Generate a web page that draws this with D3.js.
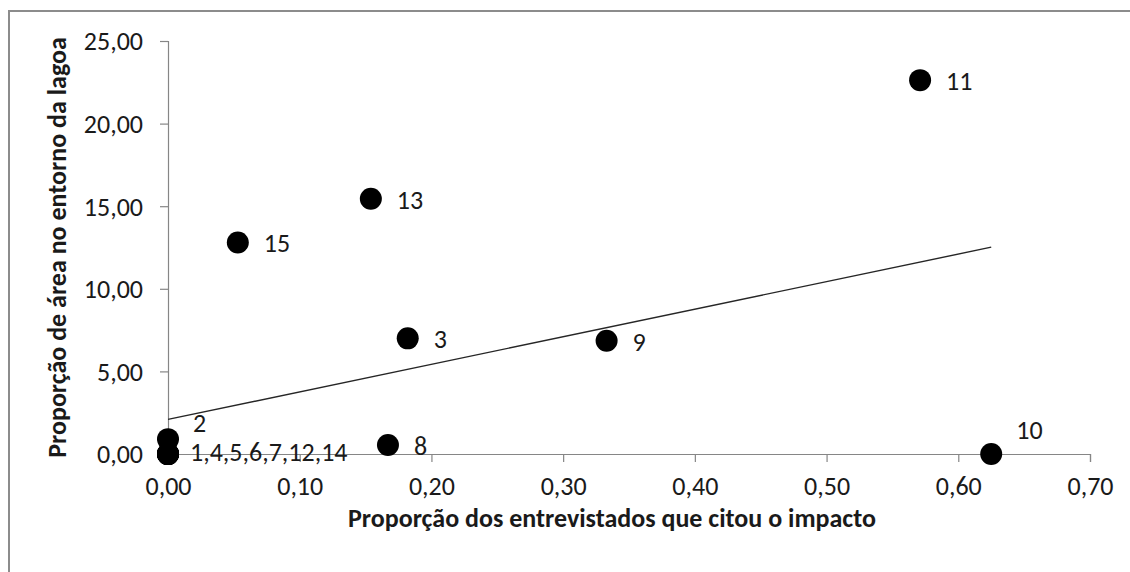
<!DOCTYPE html>
<html>
<head>
<meta charset="utf-8">
<script src="https://cdn.jsdelivr.net/npm/d3@7/dist/d3.min.js"></script>
<style>
  html, body { margin: 0; padding: 0; background: #fff; }
  svg { display: block; }
  text { font-family: Calibri, "Noto Sans", sans-serif; fill: #1a1a1a; }
</style>
</head>
<body>
<svg id="chart" width="1130" height="572"></svg>
<script>
// Sites around the lagoon
const sites = ["1", "2", "3", "4", "5", "6", "7", "8", "9", "10", "11", "12", "13", "14", "15"];
// Share of interviewees who cited the impact
const citedShare = [0, 0, 0.182, 0, 0, 0, 0, 0.167, 0.333, 0.625, 0.571, 0, 0.154, 0, 0.053];
// Share of area around the lagoon (%)
const areaShare = [0, 0.9, 7.0, 0, 0, 0, 0, 0.55, 6.86, 0, 22.63, 0, 15.45, 0, 12.8];

const xTicks = [0, 0.1, 0.2, 0.3, 0.4, 0.5, 0.6, 0.7];
const yTicks = [0, 5, 10, 15, 20, 25];

const xTitle = "Proporção dos entrevistados que citou o impacto";
const yTitle = "Proporção de área no entorno da lagoa";

const ptBR = d3.formatLocale({ decimal: ",", thousands: ".", grouping: [3], currency: ["R$", ""] });
const fmt = ptBR.format(".2f");

const svg = d3.select("#chart");
const margin = { left: 168, right: 40, top: 41, bottom: 118 };
const W = 1130, H = 572;
const FONT = 'Calibri, "Noto Sans", sans-serif';
const labelSize = 26;

svg.append("rect").attr("width", W).attr("height", H).attr("fill", "#fff");
// chart frame (extends past the visible window on the right and bottom)
svg.append("rect")
  .attr("x", 9).attr("y", 11).attr("width", 1400).attr("height", 900)
  .attr("fill", "none").attr("stroke", "#8c8c8c").attr("stroke-width", 2);

const x = d3.scaleLinear().domain([0, 0.7]).range([margin.left, W - margin.right]);
const y = d3.scaleLinear().domain([0, 25]).range([H - margin.bottom, margin.top]);

// axes
const xAxis = svg.append("g")
  .attr("transform", `translate(0,${y(0)})`)
  .call(d3.axisBottom(x).tickValues(xTicks).tickFormat(fmt).tickSize(8).tickPadding(15));
const yAxis = svg.append("g")
  .attr("transform", `translate(${x(0)},0)`)
  .call(d3.axisLeft(y).tickValues(yTicks).tickFormat(fmt).tickSize(8).tickPadding(17));

[xAxis, yAxis].forEach(g => {
  g.select(".domain").attr("stroke", "#868686").attr("stroke-width", 1.2);
  g.selectAll(".tick line").attr("stroke", "#868686").attr("stroke-width", 1.2);
  g.selectAll(".tick text")
    .attr("font-family", FONT)
    .attr("font-size", labelSize).attr("fill", "#1a1a1a");
});
yAxis.selectAll(".tick text").attr("dy", "0.34em");

// least-squares trend line over the observed range
const n = sites.length;
const mx = d3.mean(citedShare), my = d3.mean(areaShare);
let sxy = 0, sxx = 0;
for (let i = 0; i < n; i++) {
  sxy += (citedShare[i] - mx) * (areaShare[i] - my);
  sxx += (citedShare[i] - mx) ** 2;
}
const slope = sxy / sxx, intercept = my - slope * mx;
const xExt = d3.extent(citedShare);
svg.append("line")
  .attr("x1", x(xExt[0])).attr("y1", y(intercept + slope * xExt[0]))
  .attr("x2", x(xExt[1])).attr("y2", y(intercept + slope * xExt[1]))
  .attr("stroke", "#262626").attr("stroke-width", 1.4);

// markers
const pts = sites.map((s, i) => ({ site: s, cx: citedShare[i], cy: areaShare[i] }));
svg.append("g").selectAll("circle").data(pts).join("circle")
  .attr("cx", d => x(d.cx)).attr("cy", d => y(d.cy)).attr("r", 11)
  .attr("fill", "#000");

// labels: coincident sites share one label
const groups = d3.groups(pts, d => d.cx + "|" + d.cy).map(([, g]) => ({
  text: g.map(d => d.site).join(","), cx: g[0].cx, cy: g[0].cy
}));
const labelShift = { "2": [25, -16], "10": [25, -24], "1,4,5,6,7,12,14": [22, -2] };
svg.append("g").selectAll("text").data(groups).join("text")
  .attr("x", d => x(d.cx) + (labelShift[d.text] ? labelShift[d.text][0] : 26))
  .attr("y", d => y(d.cy) + (labelShift[d.text] ? labelShift[d.text][1] : 1))
  .attr("dy", "0.34em")
  .attr("font-size", labelSize)
  .text(d => d.text);

// axis titles
svg.append("text")
  .attr("x", 612).attr("y", 518).attr("dy", "0.34em")
  .attr("text-anchor", "middle").attr("font-size", 26).attr("font-weight", "bold")
  .attr("fill", "#000")
  .text(xTitle);
svg.append("text")
  .attr("transform", `translate(57,${(y(0) + y(25)) / 2}) rotate(-90)`)
  .attr("dy", "0.34em")
  .attr("text-anchor", "middle").attr("font-size", 26).attr("font-weight", "bold")
  .attr("fill", "#000")
  .text(yTitle);
</script>
</body>
</html>
